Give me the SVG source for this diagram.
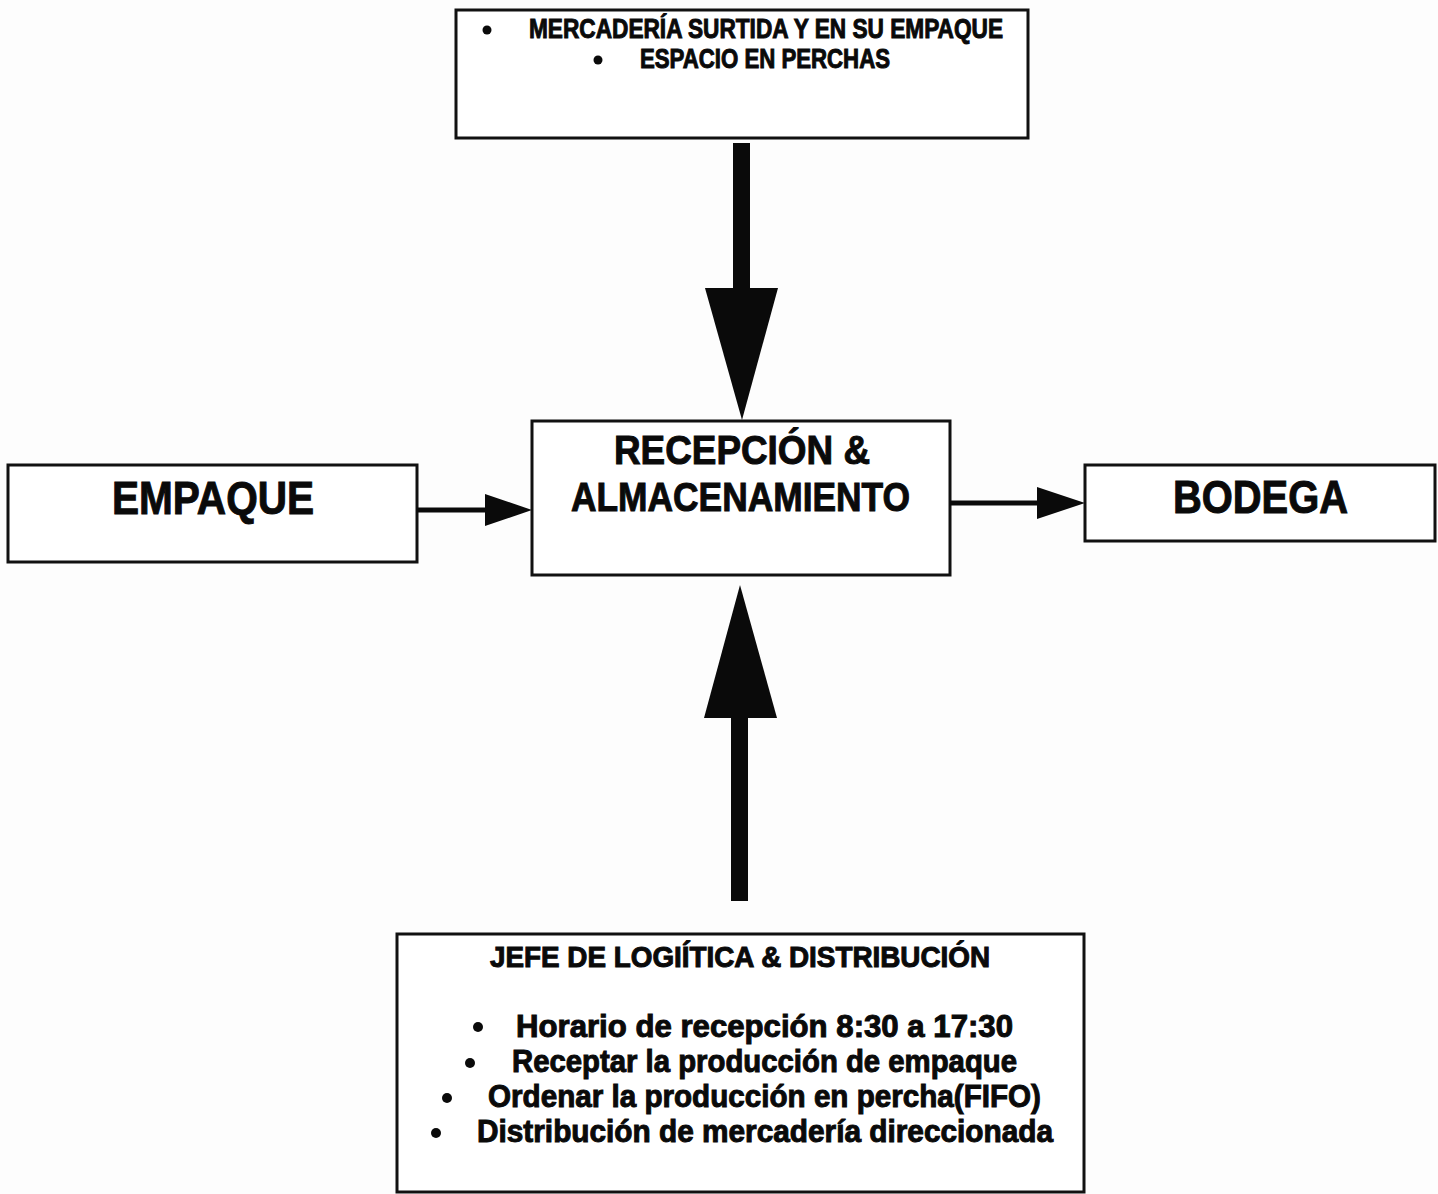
<svg xmlns="http://www.w3.org/2000/svg" width="1438" height="1194" viewBox="0 0 1438 1194">
  <style>
    .box { fill: #ffffff; stroke: #111111; stroke-width: 3; }
    .t { font-family: "Liberation Sans Narrow", "Arial Narrow", "Liberation Sans", sans-serif; font-weight: bold; fill: #0a0a0a; stroke: #0a0a0a; stroke-width: 1; }
    .link { stroke: #0a0a0a; stroke-width: 5; fill: none; }
    .solid { fill: #0a0a0a; stroke: none; }
  </style>
  <rect width="1438" height="1194" fill="#fdfdfd"/>

  <!-- Top requirement box -->
  <g id="requisitos">
    <rect class="box" x="456" y="10" width="572" height="128"/>
    <circle class="solid" cx="487" cy="30" r="4.5"/>
    <text class="t" x="529" y="38" font-size="27" textLength="474" lengthAdjust="spacingAndGlyphs">MERCADERÍA SURTIDA Y EN SU EMPAQUE</text>
    <circle class="solid" cx="598" cy="60" r="4.5"/>
    <text class="t" x="640" y="68" font-size="27" textLength="250" lengthAdjust="spacingAndGlyphs">ESPACIO EN PERCHAS</text>
  </g>

  <!-- Central process box -->
  <g id="recepcion">
    <rect class="box" x="532" y="421" width="418" height="154"/>
    <text class="t" x="614" y="464" font-size="41" textLength="256" lengthAdjust="spacingAndGlyphs">RECEPCIÓN &amp;</text>
    <text class="t" x="571" y="511" font-size="41" textLength="339" lengthAdjust="spacingAndGlyphs">ALMACENAMIENTO</text>
  </g>

  <!-- Left input box -->
  <g id="empaque">
    <rect class="box" x="8" y="465" width="409" height="97"/>
    <text class="t" x="112" y="514" font-size="46" textLength="202" lengthAdjust="spacingAndGlyphs">EMPAQUE</text>
  </g>

  <!-- Right output box -->
  <g id="bodega">
    <rect class="box" x="1085" y="465" width="350" height="76"/>
    <text class="t" x="1173" y="513" font-size="46" textLength="175" lengthAdjust="spacingAndGlyphs">BODEGA</text>
  </g>

  <!-- Bottom responsibilities box -->
  <g id="jefe">
    <rect class="box" x="397" y="934" width="687" height="258"/>
    <text class="t" x="490" y="967" font-size="29" textLength="500" lengthAdjust="spacingAndGlyphs">JEFE DE LOGIÍTICA &amp; DISTRIBUCIÓN</text>
    <circle class="solid" cx="478" cy="1027" r="5"/>
    <text class="t" x="516" y="1037" font-size="31" textLength="497" lengthAdjust="spacingAndGlyphs">Horario de recepción 8:30 a 17:30</text>
    <circle class="solid" cx="470" cy="1063" r="5"/>
    <text class="t" x="512" y="1072" font-size="31" textLength="505" lengthAdjust="spacingAndGlyphs">Receptar la producción de empaque</text>
    <circle class="solid" cx="447" cy="1098" r="5"/>
    <text class="t" x="488" y="1107" font-size="31" textLength="553" lengthAdjust="spacingAndGlyphs">Ordenar la producción en percha(FIFO)</text>
    <circle class="solid" cx="436" cy="1133" r="5"/>
    <text class="t" x="477" y="1142" font-size="31" textLength="576" lengthAdjust="spacingAndGlyphs">Distribución de mercadería direccionada</text>
  </g>

  <!-- Connectors -->
  <g id="connectors">
    <!-- top box down into the process -->
    <rect class="solid" x="733" y="143" width="17" height="147"/>
    <polygon class="solid" points="705,288 778,288 742,420"/>
    <!-- bottom box up into the process -->
    <rect class="solid" x="731" y="716" width="17" height="185"/>
    <polygon class="solid" points="704,718 777,718 740,585"/>
    <!-- EMPAQUE to the process -->
    <line class="link" x1="417" y1="510" x2="488" y2="510"/>
    <polygon class="solid" points="485,494 532,510 485,526"/>
    <!-- process to BODEGA -->
    <line class="link" x1="950" y1="503" x2="1040" y2="503"/>
    <polygon class="solid" points="1037,487 1085,503 1037,519"/>
  </g>
</svg>
